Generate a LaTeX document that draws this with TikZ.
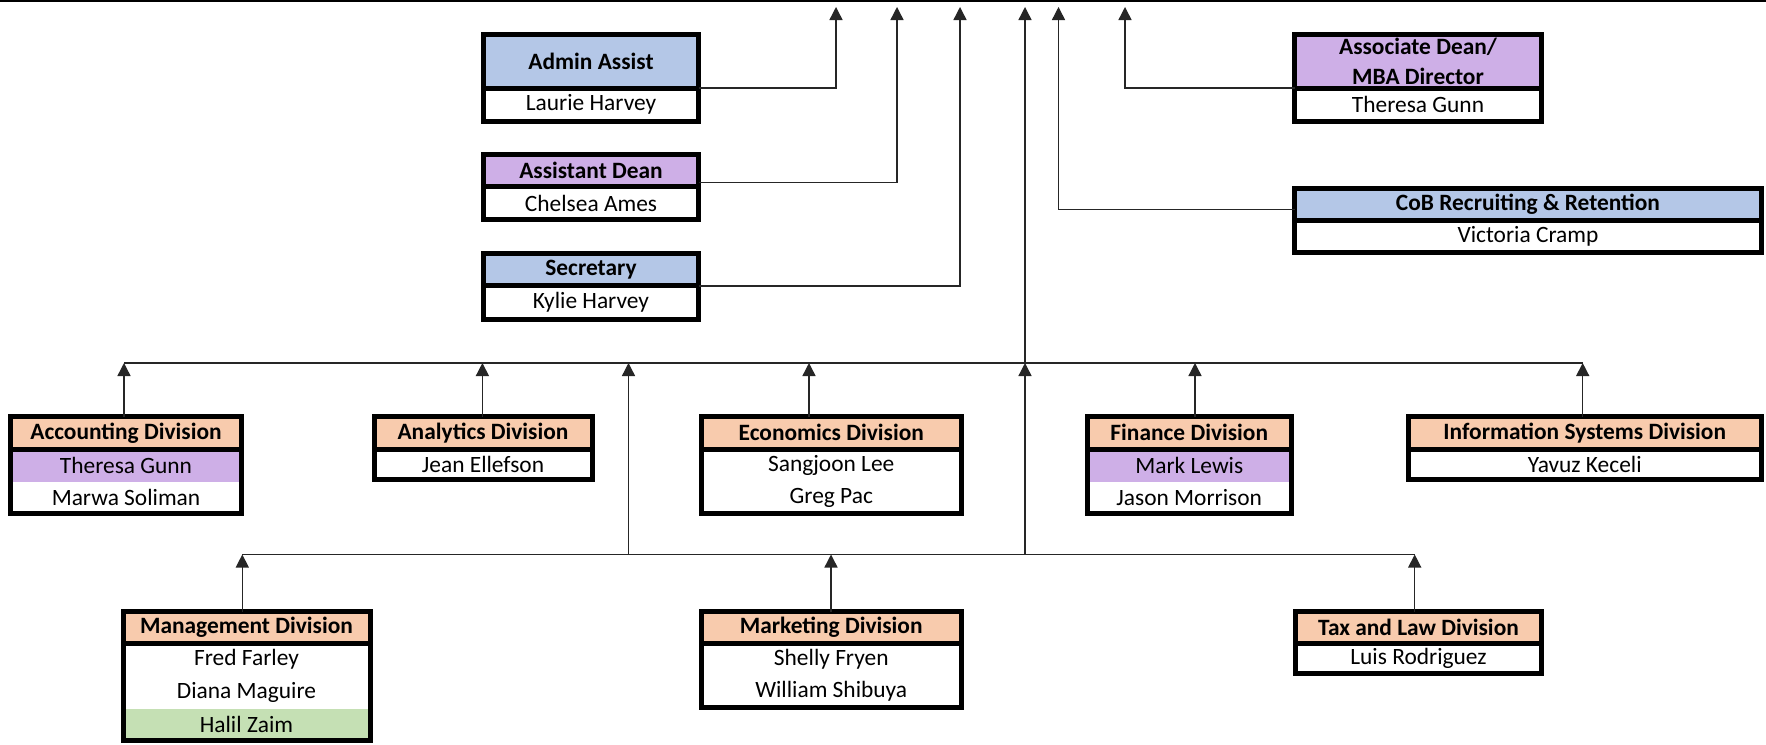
\documentclass[tikz,border=0pt]{standalone}
\usepackage{fontspec}
\setmainfont{Carlito}
\usetikzlibrary{arrows.meta}
\definecolor{hblue}{HTML}{B4C7E7}
\definecolor{hpurple}{HTML}{CEAFE7}
\definecolor{hpeach}{HTML}{F8CBAD}
\definecolor{hgreen}{HTML}{C5E0B4}
\newcommand\cellnode[7]{\node[cell,minimum width={(#4-#2)/2},minimum height={(#5-#3)/2},#6] (#1) at ({(#2+#4)/2},{(#3+#5)/2}) {#7};}
\newcommand\orgframe[2]{\draw[frame] (#1.north west) rectangle (#2.south east); \draw[frame] (#1.south west) -- (#1.south east);}
\begin{document}
\begin{tikzpicture}[x=0.5pt,y=-0.5pt,
 cell/.style={inner sep=0pt,outer sep=0pt,font=\fontsize{11.7}{15}\selectfont},
 hdr/.style={font=\fontsize{11.7}{15}\selectfont\bfseries},
 frame/.style={line width=2.5pt,line join=miter},
 conn/.style={line width=0.7pt,draw=black!85},
 arr/.style={conn,-{Triangle[length=6.5pt,width=6.5pt]}}]
\useasboundingbox (0,0) rectangle (1766,744);
\fill[white] (0,0) rectangle (1766,744);
\draw[line width=1pt] (0,1) -- (1766,1);

% top-level boxes
\cellnode{aah}{483.5}{34.5}{698.5}{88}{hdr,fill=hblue}{Admin Assist}
\cellnode{aab}{483.5}{88}{698.5}{121.5}{}{Laurie Harvey}
\orgframe{aah}{aab}
\cellnode{adh}{483.5}{154.5}{698.5}{186.8}{hdr,fill=hpurple}{Assistant Dean}
\cellnode{adb}{483.5}{186.8}{698.5}{219.8}{}{Chelsea Ames}
\orgframe{adh}{adb}
\cellnode{seh}{483.5}{253.8}{698.5}{285.8}{hdr,fill=hblue}{Secretary}
\cellnode{seb}{483.5}{285.8}{698.5}{319.2}{}{Kylie Harvey}
\orgframe{seh}{seb}
\cellnode{asdh}{1294.5}{34.5}{1541.5}{88}{hdr,fill=hpurple,align=center}{Associate Dean/\\MBA Director}
\cellnode{asdb}{1294.5}{88}{1541.5}{121.5}{}{Theresa Gunn}
\orgframe{asdh}{asdb}
\cellnode{cobh}{1294.5}{188.5}{1761.5}{220}{hdr,fill=hblue}{CoB Recruiting \& Retention}
\cellnode{cobb}{1294.5}{220}{1761.5}{252}{}{Victoria Cramp}
\orgframe{cobh}{cobb}

% division row 1
\cellnode{acch}{10.5}{416.5}{241.5}{449}{hdr,fill=hpeach}{Accounting Division}
\cellnode{acc1}{10.5}{449}{241.5}{482}{fill=hpurple}{Theresa Gunn}
\cellnode{acc2}{10.5}{482}{241.5}{513.5}{}{Marwa Soliman}
\orgframe{acch}{acc2}
\cellnode{anah}{374}{416.5}{592}{449}{hdr,fill=hpeach}{Analytics Division}
\cellnode{ana1}{374}{449}{592}{479.5}{}{Jean Ellefson}
\orgframe{anah}{ana1}
\cellnode{ecoh}{701}{416.5}{961.5}{449}{hdr,fill=hpeach}{Economics Division}
\cellnode{eco1}{701}{449}{961.5}{482}{}{Sangjoon Lee}
\cellnode{eco2}{701}{482}{961.5}{513.5}{}{Greg Pac}
\orgframe{ecoh}{eco2}
\cellnode{finh}{1087}{416.5}{1291.5}{449}{hdr,fill=hpeach}{Finance Division}
\cellnode{fin1}{1087}{449}{1291.5}{482}{fill=hpurple}{Mark Lewis}
\cellnode{fin2}{1087}{482}{1291.5}{513.5}{}{Jason Morrison}
\orgframe{finh}{fin2}
\cellnode{ish}{1408}{416.5}{1761.5}{449}{hdr,fill=hpeach}{Information Systems Division}
\cellnode{is1}{1408}{449}{1761.5}{479.5}{}{Yavuz Keceli}
\orgframe{ish}{is1}

% division row 2
\cellnode{mgh}{123}{611.5}{370}{643}{hdr,fill=hpeach}{Management Division}
\cellnode{mg1}{123}{643}{370}{676}{}{Fred Farley}
\cellnode{mg2}{123}{676}{370}{709}{}{Diana Maguire}
\cellnode{mg3}{123}{709}{370}{740.5}{fill=hgreen}{Halil Zaim}
\orgframe{mgh}{mg3}
\cellnode{mkh}{701}{611.5}{961.5}{643}{hdr,fill=hpeach}{Marketing Division}
\cellnode{mk1}{701}{643}{961.5}{676}{}{Shelly Fryen}
\cellnode{mk2}{701}{676}{961.5}{707}{}{William Shibuya}
\orgframe{mkh}{mk2}
\cellnode{txh}{1295.5}{611.5}{1541.5}{643}{hdr,fill=hpeach}{Tax and Law Division}
\cellnode{tx1}{1295.5}{643}{1541.5}{673.5}{}{Luis Rodriguez}
\orgframe{txh}{tx1}

% arrow tips at top
\coordinate (ta) at (836,7);
\coordinate (tb) at (897,7);
\coordinate (tc) at (960,7);
\coordinate (td) at (1025,7);
\coordinate (te) at (1058.5,7);
\coordinate (tf) at (1125,7);
\draw[arr] (aah.south east) -| (ta);
\draw[arr] ([yshift=2.2pt]adh.south east) -| (tb);
\draw[arr] (seh.south east) -| (tc);
\draw[arr] (asdh.south west) -| (tf);
\draw[arr] ([yshift=5.25pt]cobh.south west) -| (te);

% upper bus
\coordinate (u1) at (124,363);
\coordinate (u2) at (482.4,363);
\coordinate (u3) at (628.5,363);
\coordinate (u4) at (809,363);
\coordinate (u5) at (1025,363);
\coordinate (u6) at (1195,363);
\coordinate (u7) at (1582.7,363);
\draw[conn] (u1) -- (u7);
\draw[arr] (u5) -- (td);
\draw[arr] (u1 |- acch.north) -- (u1);
\draw[arr] (u2 |- anah.north) -- (u2);
\draw[arr] (u4 |- ecoh.north) -- (u4);
\draw[arr] (u6 |- finh.north) -- (u6);
\draw[arr] (u7 |- ish.north) -- (u7);

% lower bus
\coordinate (l1) at (242.3,554.5);
\coordinate (l2) at (628.5,554.5);
\coordinate (l3) at (831,554.5);
\coordinate (l4) at (1025,554.5);
\coordinate (l5) at (1414.7,554.5);
\draw[conn] (l1) -- (l5);
\draw[arr] (l2) -- (u3);
\draw[arr] (l4) -- (u5);
\draw[arr] (l1 |- mgh.north) -- (l1);
\draw[arr] (l3 |- mkh.north) -- (l3);
\draw[arr] (l5 |- txh.north) -- (l5);
\end{tikzpicture}
\end{document}
